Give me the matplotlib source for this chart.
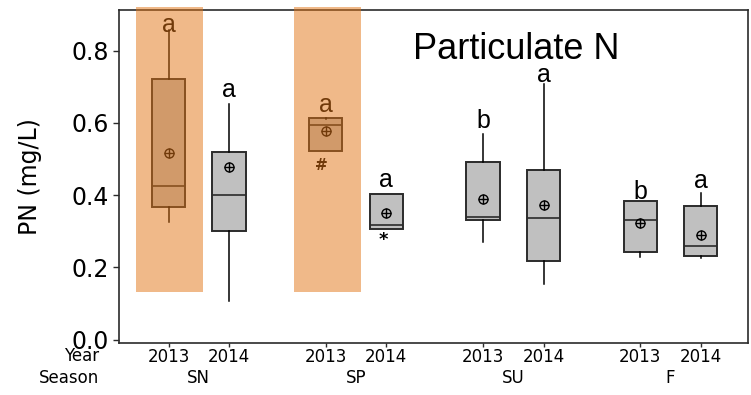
import matplotlib
matplotlib.use("Agg")
import matplotlib.pyplot as plt
import matplotlib.transforms as mtransforms

# Particulate nitrogen (mg/L) by season and year
seasons = ["SN", "SP", "SU", "F"]
years = ["2013", "2014"]
whis_hi = [0.857, 0.652, 0.612, 0.404, 0.569, 0.708, 0.385, 0.405]
q3 = [0.722, 0.519, 0.613, 0.404, 0.493, 0.470, 0.385, 0.371]
medians = [0.426, 0.400, 0.593, 0.316, 0.338, 0.336, 0.330, 0.258]
q1 = [0.368, 0.301, 0.523, 0.307, 0.332, 0.218, 0.242, 0.230]
whis_lo = [0.326, 0.108, 0.523, 0.307, 0.269, 0.154, 0.228, 0.226]
means = [0.517, 0.479, 0.578, 0.350, 0.388, 0.373, 0.322, 0.289]
letters = ["a", "a", "a", "a", "b", "a", "b", "a"]
letter_y = [0.853, 0.672, 0.630, 0.422, 0.586, 0.714, 0.388, 0.419]
highlight = [0, 2]          # boxes shaded as highlighted groups
band_range = (0.132, 0.922)

# x positions: two years per season, wider gap between seasons
group_step, year_step = 2.6, 1.0
positions = [g * group_step + y * year_step
             for g in range(len(seasons)) for y in range(len(years))]

fig = plt.figure(figsize=(7.51, 3.95), dpi=100)
ax = fig.add_axes([0.1585, 0.1316, 0.8375, 0.8431])

stats = []
for i in range(len(positions)):
    stats.append(dict(whislo=whis_lo[i], q1=q1[i], med=medians[i], q3=q3[i],
                      whishi=whis_hi[i], mean=means[i], fliers=[]))

edge = "#2b2b2b"
ax.bxp(stats, positions=positions, widths=0.55, patch_artist=True,
       showcaps=False, showfliers=False, showmeans=True,
       boxprops=dict(facecolor="#c0c0c0", edgecolor=edge, linewidth=1.4),
       medianprops=dict(color=edge, linewidth=1.2),
       whiskerprops=dict(color="black", linewidth=1.1),
       meanprops=dict(marker="o", markerfacecolor="none",
                      markeredgecolor="black", markersize=6.5,
                      markeredgewidth=1.0))
ax.plot(positions, means, linestyle="none", marker="+", color="black",
        markersize=6.5, markeredgewidth=1.0, zorder=4)

# significance letters
for x, y, t in zip(positions, letter_y, letters):
    ax.text(x, y, t, ha="center", va="baseline", fontsize=18,
            family="Liberation Sans", color="black", zorder=4)

ax.text(positions[2] - 0.07, 0.481, "#", ha="center", va="center",
        fontsize=11, fontweight="bold", color="black", zorder=4)
ax.text(positions[3] - 0.05, 0.276, "*", ha="center", va="center",
        fontsize=13, fontweight="bold", color="black", zorder=4)

# translucent orange highlight over selected boxes
for i in highlight:
    ax.bar(positions[i] + 0.02, band_range[1] - band_range[0],
           bottom=band_range[0], width=1.11, color="#e37515", alpha=0.5,
           linewidth=0, zorder=6, clip_on=False)

ax.text(5.754, 0.7765, "Particulate N", ha="center", va="baseline",
        fontsize=26, family="Liberation Sans", zorder=7)

ax.set_xlim(-0.82, 9.58)
ax.set_ylim(-0.0097, 0.9127)
ax.set_yticks([0.0, 0.2, 0.4, 0.6, 0.8])
ax.set_yticklabels(["0.0", "0.2", "0.4", "0.6", "0.8"])
ax.set_xticks(positions)
ax.set_xticklabels(years * len(seasons))
ax.tick_params(axis="y", labelsize=17, length=4, width=1, color=edge, pad=3)
ax.tick_params(axis="x", labelsize=12, length=3, width=1, color=edge, pad=0.5)
ax.set_ylabel("PN (mg/L)", fontsize=17)
ax.yaxis.set_label_coords(-0.122, 0.5)

for s in ax.spines.values():
    s.set_color(edge)
    s.set_linewidth(1.2)

# second row of category labels and row titles
trans = mtransforms.blended_transform_factory(ax.transData, fig.transFigure)
for g, name in enumerate(seasons):
    xc = (positions[2 * g] + positions[2 * g + 1]) / 2
    ax.text(xc, 1 - 378 / 395, name, transform=trans, ha="center",
            va="center", fontsize=12)
fig.text(99 / 751, 1 - 356 / 395, "Year", ha="right", va="center", fontsize=12)
fig.text(99 / 751, 1 - 378 / 395, "Season", ha="right", va="center", fontsize=12)

fig.savefig("out.png", dpi=100)
